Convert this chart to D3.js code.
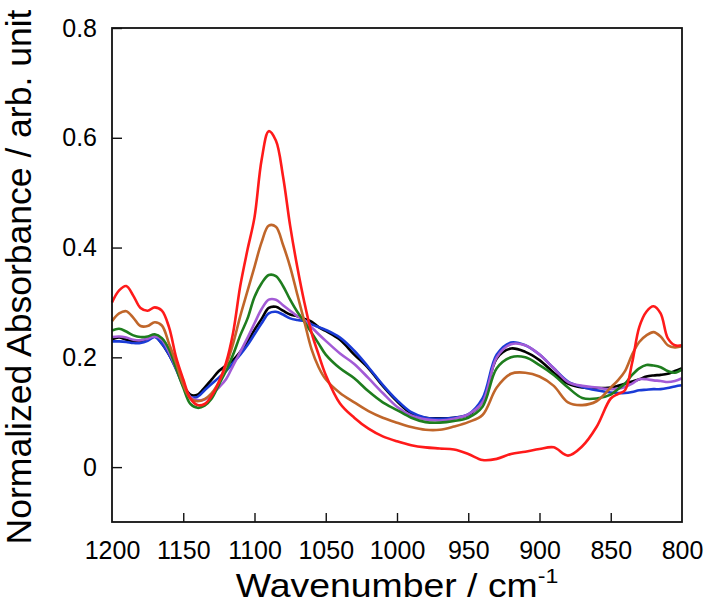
<!DOCTYPE html>
<html>
<head>
<meta charset="utf-8">
<script src="https://cdn.jsdelivr.net/npm/d3@7"></script>
<style>
  html, body { margin: 0; padding: 0; background: #fff; }
  svg { display: block; }
  text { font-family: "Liberation Sans", Arial, Helvetica, sans-serif; fill: #000; }
</style>
</head>
<body>
<svg id="chart" width="706" height="606"></svg>
<script>
// ---- data ----
const wavenumbers = [1200,1195,1190,1185,1180,1175,1170,1165,1160,1155,1150,1145,1140,1135,1130,1125,1120,1115,1110,1105,1100,1095,1090,1085,1080,1075,1070,1065,1060,1055,1050,1040,1030,1020,1010,1000,990,980,970,960,950,940,930,920,910,900,890,880,870,860,850,845,840,835,830,825,820,815,810,805,800];

const blackValues = [0.233,0.236,0.232,0.229,0.228,0.232,0.238,0.225,0.205,0.180,0.150,0.132,0.132,0.145,0.160,0.175,0.185,0.195,0.210,0.228,0.250,0.270,0.290,0.292,0.285,0.278,0.275,0.270,0.265,0.255,0.248,0.232,0.205,0.180,0.148,0.120,0.098,0.090,0.089,0.090,0.095,0.120,0.198,0.216,0.210,0.195,0.172,0.152,0.145,0.144,0.145,0.148,0.152,0.156,0.160,0.165,0.167,0.168,0.170,0.175,0.180];

const blueValues = [0.229,0.229,0.228,0.226,0.226,0.230,0.237,0.225,0.205,0.178,0.148,0.128,0.128,0.140,0.152,0.163,0.175,0.190,0.205,0.222,0.242,0.262,0.280,0.283,0.278,0.271,0.268,0.266,0.260,0.255,0.250,0.236,0.212,0.182,0.150,0.122,0.100,0.090,0.088,0.090,0.096,0.125,0.205,0.227,0.222,0.205,0.180,0.156,0.146,0.140,0.136,0.135,0.135,0.137,0.140,0.141,0.142,0.142,0.144,0.147,0.149];

const purpleValues = [0.237,0.238,0.236,0.232,0.231,0.234,0.238,0.232,0.210,0.180,0.150,0.128,0.122,0.123,0.132,0.145,0.160,0.185,0.210,0.235,0.262,0.288,0.305,0.305,0.295,0.285,0.275,0.268,0.255,0.242,0.230,0.207,0.188,0.162,0.135,0.110,0.094,0.087,0.085,0.088,0.096,0.118,0.200,0.224,0.222,0.205,0.180,0.155,0.148,0.145,0.142,0.143,0.146,0.152,0.160,0.160,0.158,0.157,0.155,0.157,0.162];

const greenValues = [0.249,0.252,0.247,0.240,0.237,0.238,0.242,0.235,0.215,0.180,0.145,0.115,0.108,0.112,0.125,0.150,0.175,0.205,0.240,0.270,0.310,0.335,0.350,0.348,0.330,0.305,0.283,0.265,0.245,0.225,0.205,0.180,0.162,0.138,0.118,0.104,0.090,0.082,0.081,0.084,0.090,0.110,0.180,0.200,0.200,0.186,0.168,0.145,0.126,0.125,0.132,0.142,0.152,0.168,0.180,0.186,0.185,0.182,0.175,0.172,0.178];

const brownValues = [0.266,0.280,0.284,0.272,0.257,0.257,0.264,0.258,0.225,0.190,0.150,0.125,0.120,0.124,0.135,0.155,0.185,0.225,0.275,0.320,0.365,0.410,0.440,0.438,0.405,0.365,0.315,0.265,0.215,0.182,0.160,0.135,0.118,0.102,0.090,0.081,0.073,0.068,0.068,0.074,0.082,0.095,0.145,0.170,0.172,0.165,0.148,0.118,0.113,0.120,0.145,0.158,0.175,0.205,0.228,0.240,0.246,0.238,0.222,0.218,0.220];

const redValues = [0.300,0.322,0.330,0.312,0.290,0.285,0.291,0.285,0.255,0.200,0.160,0.125,0.113,0.115,0.130,0.155,0.190,0.245,0.330,0.395,0.455,0.560,0.612,0.595,0.530,0.440,0.365,0.300,0.245,0.205,0.168,0.116,0.090,0.070,0.056,0.047,0.040,0.036,0.034,0.032,0.024,0.013,0.015,0.024,0.028,0.033,0.036,0.021,0.038,0.073,0.125,0.133,0.140,0.190,0.255,0.283,0.293,0.280,0.235,0.222,0.222];

const seriesNames = ["black","blue","purple","green","brown","red"];
const seriesColors = ["#000000","#1a3bd6","#a35bd6","#1e7d1e","#c0662a","#ff1a1a"];
const seriesValues = [blackValues, blueValues, purpleValues, greenValues, brownValues, redValues];

const xTicks = [1200,1150,1100,1050,1000,950,900,850,800];
const yTicks = [0,0.2,0.4,0.6,0.8];
const xTitle = "Wavenumber / cm";
const xTitleSup = "-1";
const yTitle = "Normalized Absorbance / arb. unit";

// ---- layout ----
const svg = d3.select("#chart");
const mLeft = 112, mRight = 682, mTop = 28, mBottom = 522;

const x = d3.scaleLinear().domain([1200, 800]).range([mLeft, mRight]);
const y = d3.scaleLinear().domain([-0.1, 0.8]).range([mBottom, mTop]);

// lines
const line = d3.line()
  .x(d => x(d[0]))
  .y(d => y(d[1]))
  .curve(d3.curveCatmullRom.alpha(0.5));

const plot = svg.append("g");
seriesValues.forEach((vals, i) => {
  plot.append("path")
    .datum(wavenumbers.map((w, j) => [w, vals[j]]))
    .attr("fill", "none")
    .attr("stroke", seriesColors[i])
    .attr("stroke-width", 2.6)
    .attr("stroke-linejoin", "round")
    .attr("d", line);
});

// frame
svg.append("rect")
  .attr("x", mLeft).attr("y", mTop)
  .attr("width", mRight - mLeft).attr("height", mBottom - mTop)
  .attr("fill", "none").attr("stroke", "#111").attr("stroke-width", 1.8);

// bottom axis (ticks inward)
const xAxis = d3.axisBottom(x).tickValues(xTicks).tickSizeInner(-9).tickSizeOuter(0).tickPadding(19).tickFormat(d3.format("d"));
const gx = svg.append("g").attr("transform", `translate(0,${mBottom})`).call(xAxis);
gx.select(".domain").remove();
gx.selectAll(".tick line").attr("stroke", "#111").attr("stroke-width", 1.4)
  .filter(d => d === 1200 || d === 800).remove();
gx.selectAll(".tick text").attr("font-size", 25).attr("font-family", "Liberation Sans, Arial, sans-serif").attr("fill", "#000");

// left axis (ticks inward)
const yAxis = d3.axisLeft(y).tickValues(yTicks).tickSizeInner(-10).tickSizeOuter(0).tickPadding(15)
  .tickFormat(d => d === 0 ? "0" : d3.format(".1f")(d));
const gy = svg.append("g").attr("transform", `translate(${mLeft},0)`).call(yAxis);
gy.select(".domain").remove();
gy.selectAll(".tick line").attr("stroke", "#111").attr("stroke-width", 1.4);
gy.selectAll(".tick text").attr("font-size", 25).attr("font-family", "Liberation Sans, Arial, sans-serif").attr("fill", "#000");

// axis titles
const xt = svg.append("text")
  .attr("transform", "translate(397,597) scale(1.1,1)")
  .attr("text-anchor", "middle")
  .attr("font-size", 34);
xt.append("tspan").text(xTitle);
xt.append("tspan").attr("dy", -14).attr("font-size", 21).text(xTitleSup);

svg.append("text")
  .attr("transform", "translate(31,277) rotate(-90)")
  .attr("text-anchor", "middle")
  .attr("font-size", 35.5)
  .text(yTitle);
</script>
</body>
</html>
